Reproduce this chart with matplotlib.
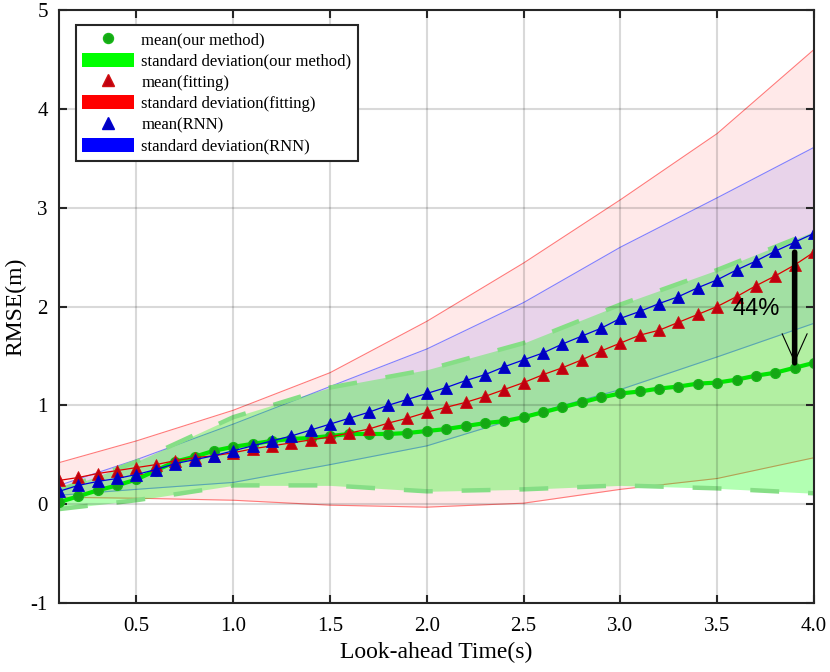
import matplotlib
matplotlib.use("Agg")
import matplotlib.pyplot as plt
from matplotlib.lines import Line2D
from matplotlib.patches import Patch
import numpy as np

# ---- data ----
t = [round(0.1 * i, 1) for i in range(1, 41)]

mean_ours = [0.02, 0.08, 0.14, 0.19, 0.25, 0.34, 0.43, 0.48, 0.54, 0.58,
             0.61, 0.64, 0.66, 0.67, 0.69, 0.71, 0.71, 0.71, 0.72, 0.74,
             0.76, 0.79, 0.82, 0.84, 0.88, 0.93, 0.98, 1.03, 1.08, 1.12,
             1.14, 1.17, 1.19, 1.22, 1.23, 1.26, 1.30, 1.33, 1.38, 1.43]

mean_fit = [0.24, 0.27, 0.31, 0.34, 0.37, 0.40, 0.44, 0.47, 0.49, 0.52,
            0.56, 0.59, 0.62, 0.65, 0.68, 0.72, 0.76, 0.82, 0.87, 0.93,
            0.98, 1.03, 1.09, 1.16, 1.23, 1.31, 1.38, 1.46, 1.55, 1.63,
            1.71, 1.76, 1.84, 1.92, 2.00, 2.10, 2.21, 2.31, 2.42, 2.55]

mean_rnn = [0.13, 0.19, 0.23, 0.26, 0.30, 0.35, 0.41, 0.45, 0.49, 0.54,
            0.59, 0.64, 0.69, 0.75, 0.81, 0.87, 0.93, 1.00, 1.06, 1.12,
            1.18, 1.25, 1.31, 1.39, 1.46, 1.53, 1.62, 1.70, 1.78, 1.88,
            1.95, 2.03, 2.10, 2.19, 2.27, 2.37, 2.46, 2.56, 2.65, 2.74]

band_t = [0.1, 0.5, 1.0, 1.5, 2.0, 2.5, 3.0, 3.5, 4.0]
fit_upper = [0.42, 0.64, 0.95, 1.33, 1.85, 2.44, 3.08, 3.75, 4.60]
fit_lower = [0.07, 0.06, 0.04, -0.01, -0.03, 0.01, 0.15, 0.26, 0.47]
rnn_upper = [0.19, 0.45, 0.81, 1.19, 1.57, 2.04, 2.60, 3.10, 3.61]
rnn_lower = [0.09, 0.15, 0.22, 0.40, 0.59, 0.89, 1.16, 1.49, 1.83]
ours_upper = [0.14, 0.43, 0.88, 1.18, 1.36, 1.63, 2.02, 2.37, 2.76]
ours_lower = [-0.05, 0.04, 0.19, 0.19, 0.13, 0.15, 0.19, 0.16, 0.11]

xticks = [0.5, 1.0, 1.5, 2.0, 2.5, 3.0, 3.5, 4.0]
yticks = [-1, 0, 1, 2, 3, 4, 5]

improvement_label = "44%"

# ---- figure ----
serif = ["Liberation Serif", "DejaVu Serif"]
plt.rcParams["font.family"] = serif

fig = plt.figure(figsize=(8.3, 6.72), dpi=100)
ax = fig.add_axes([59 / 830, 69 / 672, 755 / 830, 593 / 672])

# bands
ax.fill_between(band_t, fit_lower, fit_upper, color=(1, 0, 0), alpha=0.085, lw=0, zorder=1)
ax.plot(band_t, fit_upper, color="#ff7a7a", lw=0.8, zorder=1.1)
ax.plot(band_t, fit_lower, color="#ff7a7a", lw=0.8, zorder=1.1)

ax.fill_between(band_t, rnn_lower, rnn_upper, color=(0, 0, 1), alpha=0.09, lw=0, zorder=1.2)
ax.plot(band_t, rnn_upper, color="#8080ff", lw=0.8, zorder=1.3)
ax.plot(band_t, rnn_lower, color="#8080ff", lw=0.8, zorder=1.3)

ax.fill_between(band_t, ours_lower, ours_upper, color=(0, 1, 0), alpha=0.3, lw=0, zorder=1.4)
ax.plot(band_t, ours_upper, color="#86de86", lw=3.2, dashes=(6.5, 6.5), zorder=1.45)
ax.plot(band_t, ours_lower, color="#86de86", lw=3.2, dashes=(6.5, 6.5), zorder=1.45)

# means
ax.plot(t, mean_ours, color="#00e600", lw=3, marker="o", ms=7.2,
        mfc="#14a814", mec="#18b818", mew=0.8, zorder=3)
ax.plot(t, mean_fit, color="#e00000", lw=0.9, marker="^", ms=9,
        mfc="#c00010", mec="#d01010", mew=0.6, zorder=3.1)
ax.plot(t, mean_rnn, color="#0000e0", lw=0.9, marker="^", ms=9,
        mfc="#0000c0", mec="#0000d0", mew=0.6, zorder=3.2)

# arrow
ax.annotate("", xy=(3.9, mean_ours[-1]), xytext=(3.9, mean_fit[-1]),
            arrowprops=dict(arrowstyle="-", lw=4, color="k", shrinkA=0, shrinkB=0),
            zorder=5)
ax.annotate("", xy=(3.9, mean_ours[-1]), xytext=(3.9, 1.9),
            arrowprops=dict(arrowstyle="->,head_length=1.0,head_width=0.45", lw=0.8,
                            color="k", shrinkA=0, shrinkB=0, mutation_scale=20),
            zorder=5)
ax.text(3.7, 1.97, improvement_label, ha="center", va="center", fontsize=17,
        family=["Liberation Sans", "DejaVu Sans"], zorder=6)

# axes styling
ax.set_xlim(0.1, 4.0)
ax.set_ylim(-1, 5)
ax.set_xticks(xticks)
ax.set_xticklabels([f"{v:.1f}" for v in xticks])
ax.set_yticks(yticks)
ax.set_yticklabels([str(v) for v in yticks])
ax.set_axisbelow("line")
ax.grid(True, color="k", alpha=0.15, lw=1.5)
ax.tick_params(direction="in", length=6, width=1.5, top=True, right=True,
               labelsize=15, color="#262626")
ax.tick_params(axis="x", pad=10)
ax.tick_params(axis="y", pad=8)
for s in ax.spines.values():
    s.set_linewidth(1.5)
    s.set_color("#262626")
    s.set_zorder(10)

ax.set_xlabel("Look-ahead Time(s)", fontsize=17, labelpad=4)
ax.set_ylabel("RMSE(m)", fontsize=17, labelpad=3)

# legend
handles = [
    Line2D([], [], ls="none", marker="o", ms=7.2, mfc="#14a814", mec="#18b818"),
    Patch(facecolor=(0, 1, 0), edgecolor="none"),
    Line2D([], [], ls="none", marker="^", ms=8, mfc="#c00010", mec="#d01010"),
    Patch(facecolor=(1, 0, 0), edgecolor="none"),
    Line2D([], [], ls="none", marker="^", ms=8, mfc="#0000c0", mec="#0000d0"),
    Patch(facecolor=(0, 0, 1), edgecolor="none"),
]
labels = ["mean(our method)", "standard deviation(our method)", "mean(fitting)",
          "standard deviation(fitting)", "mean(RNN)", "standard deviation(RNN)"]
leg = ax.legend(handles, labels, loc="upper left", bbox_to_anchor=(0.022, 0.975),
                fontsize=12, frameon=True, fancybox=False, edgecolor="#262626",
                framealpha=1, handlelength=3.1, handleheight=0.9, labelspacing=0.28,
                handletextpad=0.45, borderpad=0.4, borderaxespad=0)
leg.get_frame().set_linewidth(1.5)
leg.set_zorder(20)

fig.savefig("out.png", dpi=100)
